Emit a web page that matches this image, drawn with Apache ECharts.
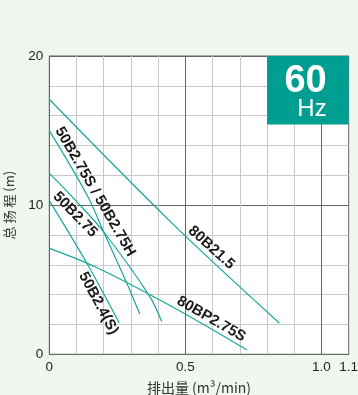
<!DOCTYPE html>
<html>
<head>
<meta charset="utf-8">
<script src="https://cdn.jsdelivr.net/npm/echarts@6/dist/echarts.min.js"></script>
<style>
html,body{margin:0;padding:0;background:#eff7ef;}
#c{width:358px;height:395px;}
</style>
</head>
<body>
<div id="c"></div>
<script>
// ---- data (Q in m3/min, H in m) ----
const s80B21_5   = [[0,17.1],[0.445,8.9],[0.845,2.1]];
const s80BP2_75S = [[0,7.1],[0.17,5.85],[0.445,3.25],[0.725,0.3]];
const s50B2_75SH = [[0,15.0],[0.138,10.7],[0.2,8.2],[0.285,4.76],[0.332,2.7]];
const s50B2_75   = [[0,12.15],[0.1,10.25],[0.2,8.2],[0.365,4.0],[0.413,2.2]];
const s50B2_4S   = [[0,10.3],[0.138,6.1],[0.257,2.1]];

const labelText  = ['50B2.75S / 50B2.75H','50B2.75','50B2.4(S)','80B21.5','80BP2.75S'];
const labelQ     = [0.1685, 0.0948, 0.1807, 0.5955, 0.5955];
const labelH     = [10.9, 9.38, 3.42, 7.15, 2.36];
const labelAngle = [-60, -46, -62, -42, -30];

const xTickValues = [0, 0.5, 1.0, 1.1];
const xTickLabels = ['0', '0.5', '1.0', '1.1'];
const yTickValues = [0, 10, 20];
const yTickLabels = ['0', '10', '20'];

const hzBoxQ = [0.8, 1.1];
const hzBoxH = [15.4, 20];
const hzText = ['60', 'Hz'];

// ---- chart ----
const TEAL = '#16a79c';
const DARK = '#666';
const GRAY = '#c9c9c9';
const FONT = '"Liberation Sans", Arial, Helvetica, sans-serif';
const TICK_FS = 13.5;

const chart = echarts.init(document.getElementById('c'), null, {renderer:'canvas'});

function lineSeries(name, data){
  return {
    name, type:'line', data, smooth:0.35, showSymbol:false, symbol:'none',
    lineStyle:{color:TEAL, width:1.2}, z:3, silent:true, animation:false
  };
}

const labelData = labelText.map((t,i)=>({
  value:[labelQ[i], labelH[i]],
  label:{rotate:labelAngle[i], formatter:t}
}));

const option = {
  backgroundColor:'#eff7ef',
  animation:false,
  grid:{left:49.3, right:9.3, top:56, bottom:40.7, containLabel:false, outerBoundsMode:'none',
        show:true, backgroundColor:'#fff', borderColor:DARK, borderWidth:1},
  xAxis:{
    type:'value', min:0, max:1.1, interval:0.1,
    name:'排出量 (m³/min)', nameLocation:'middle', nameGap:26,
    nameTextStyle:{fontFamily:'"Noto Sans CJK SC", ' + FONT, fontSize:14, color:'#333'},
    axisLine:{show:true, lineStyle:{color:DARK, width:1}},
    axisTick:{show:false},
    axisLabel:{
      margin:6, fontFamily:FONT, fontSize:TICK_FS, color:'#222',
      hideOverlap:false, showMaxLabel:true, showMinLabel:true,
      formatter:function(v){
        const r = Math.round(v*10)/10;
        const i = xTickValues.findIndex(t=>Math.abs(t-r)<1e-6);
        return i<0 ? '' : xTickLabels[i];
      }
    },
    splitLine:{show:true, showMaxLine:false, lineStyle:{color:[DARK,GRAY,GRAY,GRAY,GRAY], width:1}}
  },
  yAxis:{
    type:'value', min:0, max:20, interval:2,
    name:'总 扬 程 (m)', nameLocation:'middle', nameGap:34, nameRotate:90,
    nameTextStyle:{fontFamily:'"Noto Sans CJK SC", ' + FONT, fontSize:13, color:'#333'},
    axisLine:{show:true, lineStyle:{color:DARK, width:1}},
    axisTick:{show:false},
    axisLabel:{
      margin:6, fontFamily:FONT, fontSize:TICK_FS, color:'#222',
      formatter:function(v){
        const i = yTickValues.findIndex(t=>Math.abs(t-v)<1e-6);
        return i<0 ? '' : yTickLabels[i];
      }
    },
    splitLine:{show:true, lineStyle:{color:[DARK,GRAY,GRAY,GRAY,GRAY], width:1}}
  },
  series:[
    Object.assign(lineSeries('80B21.5', s80B21_5), {
      markArea:{
        silent:true,
        itemStyle:{color:'#009e91', opacity:1},
        label:{show:false},
        data:[[{coord:[hzBoxQ[0], hzBoxH[1]]},{coord:[hzBoxQ[1], hzBoxH[0]]}]]
      }
    }),
    lineSeries('80BP2.75S', s80BP2_75S),
    lineSeries('50B2.75S / 50B2.75H', s50B2_75SH),
    lineSeries('50B2.75', s50B2_75),
    lineSeries('50B2.4(S)', s50B2_4S),
    {
      name:'labels', type:'scatter', symbolSize:1, silent:true, z:5,
      itemStyle:{opacity:0},
      data:labelData,
      label:{show:true, position:'inside', fontFamily:FONT, fontSize:15, fontWeight:'bold',
             color:'#1a1a1a', textBorderWidth:0, opacity:1}
    }
  ]
};
chart.setOption(option);

// "60 Hz" text inside the box (positions derived from the box's data coordinates)
const pTL = chart.convertToPixel({gridIndex:0}, [hzBoxQ[0], hzBoxH[1]]);
const pBR = chart.convertToPixel({gridIndex:0}, [hzBoxQ[1], hzBoxH[0]]);
const rightX = pBR[0] - 22;
chart.setOption({
  graphic:[
    {type:'text', x:rightX, y:pTL[1] + 26, z:10,
      style:{text:hzText[0], fill:'#fff', font:'bold 38px ' + FONT, align:'right', verticalAlign:'middle'}},
    {type:'text', x:rightX, y:pTL[1] + 53, z:10,
      style:{text:hzText[1], fill:'#fff', font:'24px ' + FONT, align:'right', verticalAlign:'middle'}}
  ]
});
</script>
</body>
</html>
